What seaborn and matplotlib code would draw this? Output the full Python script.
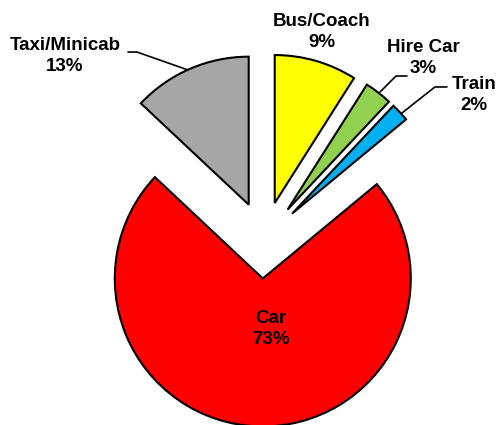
import matplotlib
matplotlib.use('Agg')
import matplotlib.pyplot as plt
import seaborn as sns

# datos del gráfico
modos = ['Bus/Coach', 'Hire Car', 'Train', 'Car', 'Taxi/Minicab']
porcentajes = [9, 3, 2, 73, 13]
colores = ['#FFFF00', '#92D050', '#00B0F0', '#FF0000', '#A6A6A6']

sns.set_theme(style='white')
plt.rcParams['font.family'] = ['Liberation Sans', 'DejaVu Sans']

fig = plt.figure(figsize=(5, 4.25), dpi=100)
ax = fig.add_axes([0, 0, 1, 1])

wedges, _ = ax.pie(porcentajes, colors=colores, startangle=90, counterclock=False,
                   explode=[0.26] * len(porcentajes), radius=1,
                   wedgeprops=dict(edgecolor='black', linewidth=1.5))

# posiciones de las etiquetas (coordenadas del eje)
pos_etiquetas = {
    'Bus/Coach': (0.392, 1.405),
    'Hire Car': (1.074, 1.23),
    'Train': (1.419, 0.98),
    'Car': (0.047, -0.60),
    'Taxi/Minicab': (-1.345, 1.243),
}
for modo, pct in zip(modos, porcentajes):
    x, y = pos_etiquetas[modo]
    ax.text(x, y, f'{modo}\n{pct}%', ha='center', va='center', fontsize=13.5,
            fontweight='bold', linespacing=1.3, color='black')

# líneas guía
guias = [
    [(-0.919, 1.270), (-0.858, 1.270), (-0.514, 1.149)],
    [(0.966, 1.108), (0.892, 1.108), (0.784, 1.0)],
    [(1.236, 1.034), (1.155, 1.034), (0.932, 0.858)],
]
for g in guias:
    xs, ys = zip(*g)
    ax.plot(xs, ys, color='black', linewidth=1.2)

ax.set_xlim(-264 / 148, (500 - 264) / 148)
ax.set_ylim(-(425 - 240) / 148, 240 / 148)
ax.set_aspect('equal')
ax.axis('off')

plt.savefig('out.png', dpi=100)
